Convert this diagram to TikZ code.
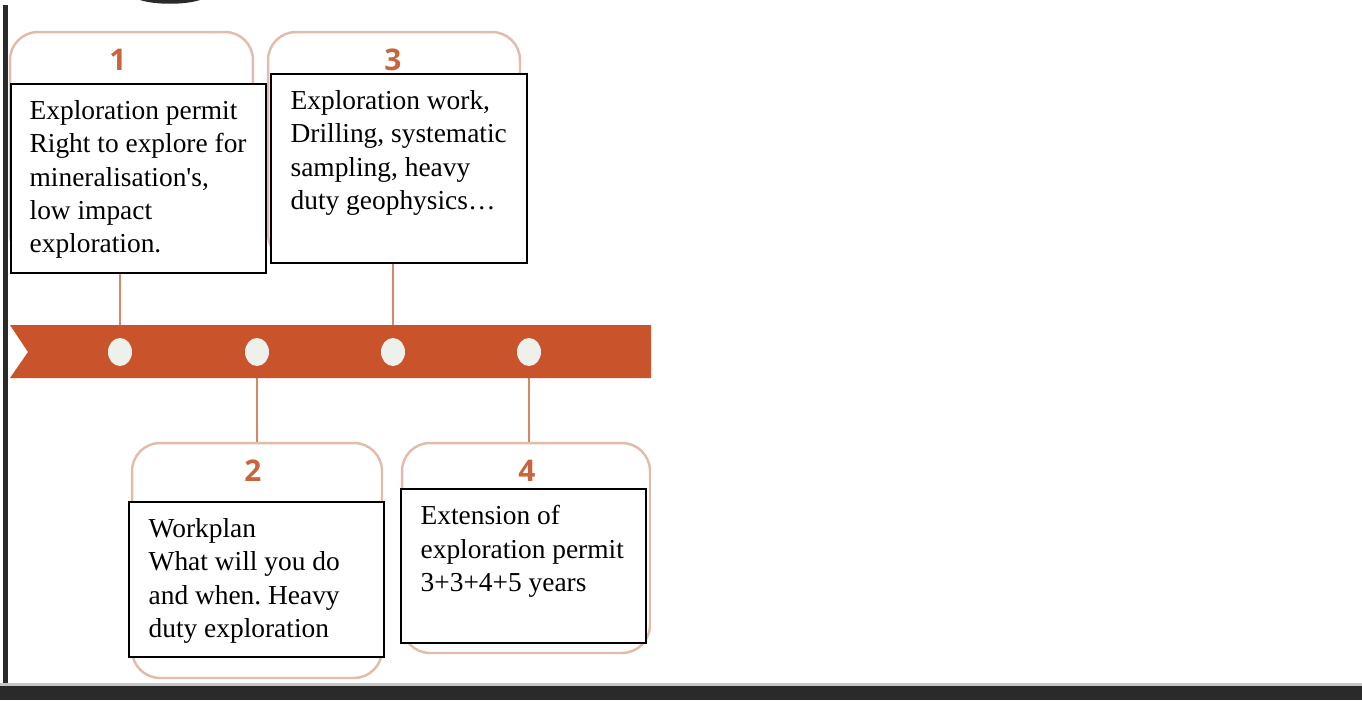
\documentclass[tikz,border=0pt]{standalone}
\usepackage{fontspec}
\usepackage{tikz}
\usetikzlibrary{calc,positioning,shapes.geometric}
\newfontfamily\bodyfont{Liberation Serif}
\newfontfamily\numfont{Open Sans}
\definecolor{band}{HTML}{C9532B}
\definecolor{stemcol}{HTML}{D8856A}
\definecolor{framecol}{HTML}{E2BCA9}
\definecolor{numcol}{HTML}{C8653C}
\definecolor{dotcol}{HTML}{EEF0EB}
\definecolor{barcol}{HTML}{2A2A2A}
\frenchspacing
\tikzset{
x=0.02cm, y=-0.02cm, % one unit is one pixel of the screenshot
frame/.style={draw=framecol, line width=1.4pt, rounded corners=0.56cm, inner sep=0pt},
num/.style={font=\numfont\bfseries\fontsize{17}{17}\selectfont, text=numcol, inner sep=0pt},
textbox/.style={draw=black, line width=0.85pt, fill=white, inner sep=0pt},
txt/.style={anchor=north west, inner sep=0pt, align=left, font=\bodyfont\fontsize{15.6}{18.9}\selectfont},
stem/.style={draw=stemcol, line width=1.6pt},
dot/.style={ellipse, fill=dotcol, minimum width=0.48cm, minimum height=0.56cm, inner sep=0pt},
}

\begin{document}
\begin{tikzpicture}
\useasboundingbox (0,0) rectangle (1362,700);
% screenshot edges
\fill[barcol] (3,5) rectangle (8,700);
\fill[gray!45] (0,683) rectangle (1362,686);
\fill[barcol] (0,686) rectangle (1362,700);
\fill[barcol] (140,0) .. controls (155,5) and (185,5) .. (200,0) -- cycle;

% rounded frames with their numbers
\node[frame, minimum width=4.86cm, minimum height=4.6cm] (fr1) at (131.5,147) {};
\node[frame, minimum width=5.04cm, minimum height=4.6cm] (fr3) at (394,147) {};
\node[frame, minimum width=5cm, minimum height=4.7cm] (fr2) at (257,560.5) {};
\node[frame, minimum width=4.96cm, minimum height=4.2cm] (fr4) at (526,548) {};
\node[num] (n1) at ($(fr1.north)+(-13.5,29)$) {1};
\node[num] (n3) at ($(fr3.north)+(-1,29)$) {3};
\node[num] (n2) at ($(fr2.north)+(-4,29)$) {2};
\node[num] (n4) at ($(fr4.north)+(1,29)$) {4};

% text boxes
\node[textbox, minimum width=5.1cm, minimum height=3.78cm] (tb1) at (138.5,178.5) {};
\node[textbox, minimum width=5.12cm, minimum height=3.78cm] (tb3) at (399,168.5) {};
\node[textbox, minimum width=5.1cm, minimum height=3.1cm] (tb2) at (256.5,579.5) {};
\node[textbox, minimum width=4.9cm, minimum height=3.08cm] (tb4) at (523.5,566) {};
\node[txt] (t1) at ($(tb1.north west)+(19,17)$) {Exploration permit\\Right to explore for\\mineralisation's,\\low impact\\exploration.};
\node[txt] (t3) at ($(tb3.north west)+(20,17)$) {Exploration work,\\Drilling, systematic\\sampling, heavy\\duty geophysics…};
\node[txt] (t2) at ($(tb2.north west)+(20,17)$) {Workplan\\What will you do\\and when. Heavy\\duty exploration};
\node[txt] (t4) at ($(tb4.north west)+(20,17)$) {Extension of\\exploration permit\\3+3+4+5 years};

% timeline
\coordinate (p1) at (120,352);
\coordinate (p2) at (257,352);
\coordinate (p3) at (393,352);
\coordinate (p4) at (529,352);
\coordinate (p5) at (663,352);
\draw[stem] (p1 |- tb1.south) -- (p1);
\draw[stem] (p3 |- tb3.south) -- (p3);
\draw[stem] (p2) -- (p2 |- fr2.north);
\draw[stem] (p4) -- (p4 |- fr4.north);
\fill[band] (10,325) -- (651,325) -- (651,378) -- (10,378) -- (28,352) -- cycle;
\node[dot] (c1) at (p1) {};
\node[dot] (c2) at (p2) {};
\node[dot] (c3) at (p3) {};
\node[dot] (c4) at (p4) {};
\begin{scope}
\clip (10,325) rectangle (651,378);
\node[dot] (c5) at (p5) {};
\end{scope}
\end{tikzpicture}
\end{document}
